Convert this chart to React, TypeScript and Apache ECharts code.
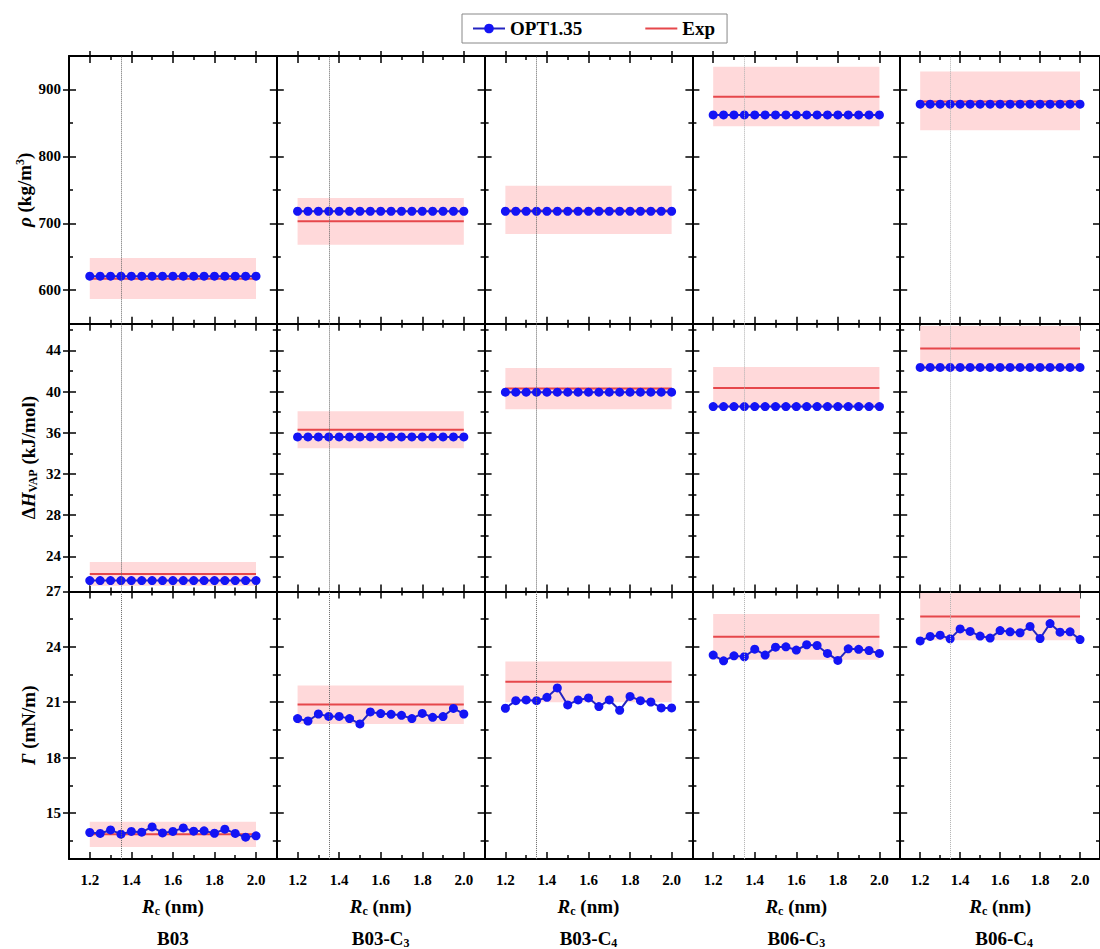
import React, { useEffect, useRef } from 'react';
import * as echarts from 'echarts';

// ---------- data ----------
const groupBase = ['B03', 'B03-C', 'B03-C', 'B06-C', 'B06-C'];
const groupSub = ['', '3', '4', '3', '4'];

const rcValues = [1.2, 1.25, 1.3, 1.35, 1.4, 1.45, 1.5, 1.55, 1.6, 1.65, 1.7, 1.75, 1.8, 1.85, 1.9, 1.95, 2.0];
const xTickLabels = [1.2, 1.4, 1.6, 1.8, 2.0];
const xMinorTicks = [1.3, 1.5, 1.7, 1.9];
const cutoffLine = 1.35;
const expStart = 1.2;
const expEnd = 2.0;

// density rho (kg/m3)
const rhoOptB03 = [621, 621, 621, 621, 621, 621, 621, 621, 621, 621, 621, 621, 621, 621, 621, 621, 621];
const rhoOptB03C3 = [718, 718, 718, 718, 718, 718, 718, 718, 718, 718, 718, 718, 718, 718, 718, 718, 718];
const rhoOptB03C4 = [718, 718, 718, 718, 718, 718, 718, 718, 718, 718, 718, 718, 718, 718, 718, 718, 718];
const rhoOptB06C3 = [862, 862, 862, 862, 862, 862, 862, 862, 862, 862, 862, 862, 862, 862, 862, 862, 862];
const rhoOptB06C4 = [878, 878, 878, 878, 878, 878, 878, 878, 878, 878, 878, 878, 878, 878, 878, 878, 878];
const rhoExp = [617, 703, 719, 889, 882];
const rhoLow = [587, 668, 684, 845, 839];
const rhoHigh = [648, 738, 756, 934, 927];
const rhoTicks = [600, 700, 800, 900];
const rhoMinor = [650, 750, 850];

// vaporization enthalpy (kJ/mol)
const hvapOptB03 = [21.65, 21.65, 21.65, 21.65, 21.65, 21.65, 21.65, 21.65, 21.65, 21.65, 21.65, 21.65, 21.65, 21.65, 21.65, 21.65, 21.65];
const hvapOptB03C3 = [35.6, 35.6, 35.6, 35.6, 35.6, 35.6, 35.6, 35.6, 35.6, 35.6, 35.6, 35.6, 35.6, 35.6, 35.6, 35.6, 35.6];
const hvapOptB03C4 = [39.95, 39.95, 39.95, 39.95, 39.95, 39.95, 39.95, 39.95, 39.95, 39.95, 39.95, 39.95, 39.95, 39.95, 39.95, 39.95, 39.95];
const hvapOptB06C3 = [38.55, 38.55, 38.55, 38.55, 38.55, 38.55, 38.55, 38.55, 38.55, 38.55, 38.55, 38.55, 38.55, 38.55, 38.55, 38.55, 38.55];
const hvapOptB06C4 = [42.35, 42.35, 42.35, 42.35, 42.35, 42.35, 42.35, 42.35, 42.35, 42.35, 42.35, 42.35, 42.35, 42.35, 42.35, 42.35, 42.35];
const hvapExp = [22.3, 36.3, 40.3, 40.35, 44.2];
const hvapLow = [21.15, 34.5, 38.3, 38.4, 42.0];
const hvapHigh = [23.45, 38.1, 42.3, 42.4, 46.4];
const hvapTicks = [24, 28, 32, 36, 40, 44];
const hvapMinor = [22, 26, 30, 34, 38, 42, 46];

// surface tension (mN/m)
const gammaOptB03 = [13.94, 13.89, 14.08, 13.85, 14.0, 13.96, 14.24, 13.92, 14.0, 14.19, 14.01, 14.03, 13.9, 14.12, 13.89, 13.69, 13.76];
const gammaOptB03C3 = [20.11, 19.98, 20.36, 20.23, 20.23, 20.11, 19.82, 20.47, 20.38, 20.34, 20.29, 20.11, 20.39, 20.18, 20.22, 20.66, 20.36];
const gammaOptB03C4 = [20.67, 21.08, 21.12, 21.08, 21.26, 21.77, 20.85, 21.12, 21.23, 20.76, 21.12, 20.56, 21.31, 21.08, 21.01, 20.69, 20.69];
const gammaOptB06C3 = [23.55, 23.24, 23.51, 23.46, 23.87, 23.55, 23.98, 24.0, 23.82, 24.11, 24.07, 23.64, 23.26, 23.89, 23.86, 23.8, 23.64];
const gammaOptB06C4 = [24.32, 24.56, 24.63, 24.43, 24.97, 24.83, 24.58, 24.47, 24.88, 24.81, 24.76, 25.1, 24.45, 25.26, 24.79, 24.81, 24.39];
const gammaExp = [13.85, 20.87, 22.1, 24.54, 25.64];
const gammaLow = [13.15, 19.82, 21.0, 23.3, 24.35];
const gammaHigh = [14.52, 21.9, 23.2, 25.78, 26.92];
const gammaTicks = [15, 18, 21, 24, 27];
const gammaMinor = [13.5, 16.5, 19.5, 22.5, 25.5];

const seriesNames = ['OPT1.35', 'Exp'];

// ---------- style ----------
const FF = 'Liberation Serif';
const BLUE = '#1414f5';
const BLUE_LINE = '#2424c0';
const RED = '#e6474b';
const PINK = '#ffd9da';

const COL_LEFT0 = 69;
const COL_W = 207.8;
const ROW_TOP0 = 56;
const ROW_H = 267.7;

const NAME_FS = 19;
const nameRich = {
  i: { fontFamily: FF, fontStyle: 'italic', fontWeight: 'bold', fontSize: NAME_FS, color: '#000', lineHeight: 24 },
  n: { fontFamily: FF, fontWeight: 'bold', fontSize: NAME_FS, color: '#000', lineHeight: 24 },
  sub: { fontFamily: FF, fontWeight: 'bold', fontSize: 12, color: '#000', lineHeight: 24, padding: [9, 0, 0, 0] },
  sup: { fontFamily: FF, fontWeight: 'bold', fontSize: 12, color: '#000', lineHeight: 24, padding: [0, 0, 9, 0] },
};

function buildOption() {
  const rows = [
    {
      min: 550, max: 950, major: rhoTicks, minor: rhoMinor,
      opt: [rhoOptB03, rhoOptB03C3, rhoOptB03C4, rhoOptB06C3, rhoOptB06C4],
      exp: rhoExp, lo: rhoLow, hi: rhoHigh,
      name: '{i|ρ}{n| (kg/m}{sup|3}{n|)}',
    },
    {
      min: 20.6, max: 46.6, major: hvapTicks, minor: hvapMinor,
      opt: [hvapOptB03, hvapOptB03C3, hvapOptB03C4, hvapOptB06C3, hvapOptB06C4],
      exp: hvapExp, lo: hvapLow, hi: hvapHigh,
      name: '{n|Δ}{i|H}{sub|VAP}{n| (kJ/mol)}',
    },
    {
      min: 12.5, max: 27, major: gammaTicks, minor: gammaMinor,
      opt: [gammaOptB03, gammaOptB03C3, gammaOptB03C4, gammaOptB06C3, gammaOptB06C4],
      exp: gammaExp, lo: gammaLow, hi: gammaHigh,
      name: '{i|Γ}{n| (mN/m)}',
    },
  ];

  const grids: any[] = [];
  const xAxes: any[] = [];
  const yAxes: any[] = [];
  const series: any[] = [];
  const graphics: any[] = [];

  const tickStyle = { color: '#000', width: 1.5 };
  const lineStyle = { color: '#000', width: 2 };

  const xAx = (g: number, pos: string, ticks: number[], len: number, inside: boolean, showLine: boolean, extra: any = {}) => ({
    type: 'value', gridIndex: g, position: pos, min: 1.1, max: 2.1,
    axisLine: { show: showLine, onZero: false, lineStyle },
    axisTick: { show: true, inside, length: len, customValues: ticks, lineStyle: tickStyle },
    axisLabel: { show: false },
    splitLine: { show: false },
    ...extra,
  });
  const yAx = (g: number, pos: string, min: number, max: number, ticks: number[], len: number, inside: boolean, showLine: boolean, extra: any = {}) => ({
    type: 'value', gridIndex: g, position: pos, min, max,
    axisLine: { show: showLine, onZero: false, lineStyle },
    axisTick: { show: true, inside, length: len, customValues: ticks, lineStyle: tickStyle },
    axisLabel: { show: false },
    splitLine: { show: false },
    ...extra,
  });

  rows.forEach((row, r) => {
    for (let c = 0; c < 5; c++) {
      const g = grids.length;
      const left = COL_LEFT0 + c * COL_W;
      const top = ROW_TOP0 + r * ROW_H;
      grids.push({ left, top, width: COL_W, height: ROW_H });

      const mainX = xAxes.length;
      const bottomExtra: any = {};
      if (r === 2) {
        bottomExtra.axisLabel = {
          show: true, customValues: xTickLabels, formatter: (v: number) => v.toFixed(1), margin: 13,
          fontFamily: FF, fontWeight: 'bold', fontSize: 15, color: '#000',
        };
        bottomExtra.name = '{i|R}{sub|c}{n| (nm)}';
        bottomExtra.nameLocation = 'middle';
        bottomExtra.nameGap = 35;
        bottomExtra.nameTextStyle = { fontFamily: FF, rich: nameRich };
      }
      xAxes.push(xAx(g, 'bottom', xTickLabels, 7, true, true, bottomExtra));
      xAxes.push(xAx(g, 'bottom', xMinorTicks, 4, true, false));
      xAxes.push(xAx(g, 'top', xTickLabels, 7, true, true));
      xAxes.push(xAx(g, 'top', xMinorTicks, 4, true, false));
      if (r === 0) xAxes.push(xAx(g, 'top', xTickLabels, 5, false, false));

      const mainY = yAxes.length;
      const leftExtra: any = {};
      if (c === 0) {
        leftExtra.axisLabel = {
          show: true, customValues: row.major, margin: 8,
          fontFamily: FF, fontWeight: 'bold', fontSize: 15, color: '#000',
        };
        leftExtra.name = row.name;
        leftExtra.nameLocation = 'middle';
        leftExtra.nameRotate = 90;
        leftExtra.nameGap = 29;
        leftExtra.nameTextStyle = { fontFamily: FF, rich: nameRich };
      }
      yAxes.push(yAx(g, 'left', row.min, row.max, row.major, 7, true, true, leftExtra));
      yAxes.push(yAx(g, 'left', row.min, row.max, row.minor, 4, true, false));
      yAxes.push(yAx(g, 'right', row.min, row.max, row.major, 7, true, true));
      yAxes.push(yAx(g, 'right', row.min, row.max, row.minor, 4, true, false));
      if (c === 0) yAxes.push(yAx(g, 'left', row.min, row.max, row.major, 6, false, false));

      series.push({
        name: seriesNames[1], type: 'line', xAxisIndex: mainX, yAxisIndex: mainY,
        data: [[expStart, row.exp[c]], [expEnd, row.exp[c]]],
        symbol: 'none', lineStyle: { color: RED, width: 2 }, itemStyle: { color: RED },
        z: 3,
        markArea: {
          silent: true, itemStyle: { color: PINK },
          data: [[{ xAxis: expStart, yAxis: row.lo[c] }, { xAxis: expEnd, yAxis: row.hi[c] }]],
        },
      });
      series.push({
        name: seriesNames[0], type: 'line', xAxisIndex: mainX, yAxisIndex: mainY,
        data: rcValues.map((x, i) => [x, row.opt[c][i]]),
        symbol: 'circle', symbolSize: 9,
        lineStyle: { color: BLUE_LINE, width: 2 }, itemStyle: { color: BLUE },
        z: 4,
        markLine: {
          silent: true, symbol: ['none', 'none'], label: { show: false },
          lineStyle: { type: 'dotted', color: c < 3 ? '#666' : '#b0b0b0', width: 1 },
          data: [{ xAxis: cutoffLine }],
        },
      });
    }
  });

  for (let c = 0; c < 5; c++) {
    graphics.push({
      type: 'text',
      x: COL_LEFT0 + c * COL_W + COL_W / 2,
      y: 938,
      style: {
        text: groupSub[c] ? `{b|${groupBase[c]}}{s|${groupSub[c]}}` : `{b|${groupBase[c]}}`,
        fontFamily: FF, fontWeight: 'bold', fontSize: NAME_FS,
        align: 'center', verticalAlign: 'middle',
        rich: {
          b: { fontFamily: FF, fontWeight: 'bold', fontSize: NAME_FS, fill: '#000', lineHeight: 24 },
          s: { fontFamily: FF, fontWeight: 'bold', fontSize: 12, fill: '#000', lineHeight: 24, padding: [9, 0, 0, 0] },
        },
      },
    });
  }

  return {
    animation: false,
    backgroundColor: '#fff',
    legend: {
      data: [{ name: seriesNames[0] }, { name: seriesNames[1], itemStyle: { opacity: 0 } }],
      left: 462, top: 14,
      itemGap: 62, itemWidth: 32, itemHeight: 12,
      padding: [5, 12, 5, 10],
      borderColor: '#888', borderWidth: 1,
      textStyle: { fontFamily: FF, fontWeight: 'bold', fontSize: 19, color: '#000' },
    },
    grid: grids,
    xAxis: xAxes,
    yAxis: yAxes,
    series,
    graphic: graphics,
  };
}

export default function App() {
  const ref = useRef<HTMLDivElement>(null);
  useEffect(() => {
    document.body.style.margin = '0';
    const chart = echarts.init(ref.current!, null, { renderer: 'svg' });
    chart.setOption(buildOption() as any);
    return () => chart.dispose();
  }, []);
  return <div ref={ref} style={{ width: 1100, height: 949 }} />;
}
